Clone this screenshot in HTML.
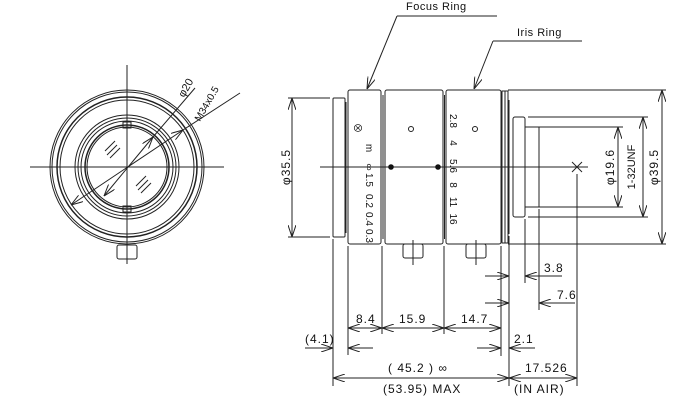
<!DOCTYPE html>
<html><head><style>body{margin:0;background:#fff}svg{display:block}text{font-family:"Liberation Sans","Noto Sans CJK JP",sans-serif;fill:#111}</style></head>
<body>
<svg width="700" height="400" viewBox="0 0 700 400" xmlns="http://www.w3.org/2000/svg">
<defs>
<marker id="a" viewBox="0 0 12 8" refX="12" refY="4" markerWidth="12" markerHeight="8" orient="auto-start-reverse" markerUnits="userSpaceOnUse"><path d="M0,0 L12,4 L0,8" fill="none" stroke="#222" stroke-width="1"/></marker>
</defs>
<g fill="none" stroke="#222" stroke-width="1">
<!-- left front view -->
<line x1="30" y1="167" x2="224" y2="167"/>
<line x1="127" y1="65" x2="127" y2="264"/>
<circle cx="127" cy="167" r="77"/>
<circle cx="127" cy="167" r="75"/>
<circle cx="127" cy="167" r="70" stroke-width="1.5"/>
<circle cx="127" cy="167" r="67"/>
<circle cx="127" cy="167" r="52"/>
<circle cx="127" cy="167" r="49"/>
<circle cx="127" cy="167" r="46"/>
<circle cx="127" cy="167" r="42" stroke-width="1.5"/>
<circle cx="127" cy="167" r="40"/>
<rect x="117" y="245" width="20" height="14" rx="2"/>
<rect x="123" y="122" width="8" height="6"/>
<rect x="123" y="206" width="8" height="6"/>
<line x1="104" y1="196" x2="153" y2="137" marker-start="url(#a)" marker-end="url(#a)"/>
<line x1="153" y1="137" x2="195" y2="88"/>
<line x1="71" y1="205" x2="183" y2="130" marker-start="url(#a)" marker-end="url(#a)"/>
<line x1="183" y1="130" x2="240" y2="93"/>
<line x1="105" y1="151" x2="115" y2="141"/><line x1="107" y1="155" x2="117" y2="145"/><line x1="110" y1="158" x2="120" y2="148"/>
<line x1="136" y1="186" x2="146" y2="176"/><line x1="138" y1="190" x2="148" y2="180"/><line x1="141" y1="193" x2="151" y2="183"/>

<!-- side view body -->
<rect x="333" y="98" width="12" height="139" rx="1"/>
<line x1="346" y1="102" x2="346" y2="233"/>
<rect x="348" y="90" width="33" height="154" rx="2"/>
<line x1="383" y1="95" x2="383" y2="239"/>
<rect x="385" y="90" width="58" height="154" rx="2"/>
<line x1="444.5" y1="95" x2="444.5" y2="239"/>
<rect x="446" y="90" width="55" height="154" rx="2"/>
<rect x="502" y="91" width="3" height="152"/>
<rect x="505" y="91" width="3" height="152"/>
<line x1="509" y1="100" x2="509" y2="234"/>
<rect x="513" y="117" width="12" height="100" rx="2"/>
<rect x="525" y="127" width="14" height="80"/>
<line x1="320" y1="167" x2="588" y2="167"/>
<line x1="572" y1="162" x2="582" y2="172"/><line x1="572" y1="172" x2="582" y2="162"/>
<rect x="403" y="244" width="20" height="14" rx="2"/>
<rect x="466" y="244" width="20" height="14" rx="2"/>
<line x1="413" y1="240" x2="413" y2="265"/>
<line x1="476" y1="240" x2="476" y2="265"/>
<circle cx="411" cy="129" r="2.5"/>
<circle cx="475" cy="129" r="2.5"/>

<!-- labels leaders -->
<line x1="397" y1="16" x2="497" y2="16"/>
<line x1="397" y1="16" x2="367" y2="89" marker-end="url(#a)"/>
<line x1="493" y1="41" x2="582" y2="41"/>
<line x1="493" y1="41" x2="474" y2="89" marker-end="url(#a)"/>

<!-- phi35.5 -->
<line x1="288" y1="98" x2="330" y2="98"/>
<line x1="288" y1="237" x2="330" y2="237"/>
<line x1="292" y1="98" x2="292" y2="237" marker-start="url(#a)" marker-end="url(#a)"/>
<!-- right dims -->
<line x1="528" y1="127" x2="623" y2="127"/>
<line x1="538" y1="207" x2="623" y2="207"/>
<line x1="618" y1="127" x2="618" y2="207" marker-start="url(#a)" marker-end="url(#a)"/>
<line x1="528" y1="117" x2="648" y2="117"/>
<line x1="528" y1="217" x2="648" y2="217"/>
<line x1="643" y1="117" x2="643" y2="217" marker-start="url(#a)" marker-end="url(#a)"/>
<line x1="508" y1="90" x2="666" y2="90"/>
<line x1="508" y1="244" x2="666" y2="244"/>
<line x1="662" y1="90" x2="662" y2="244" marker-start="url(#a)" marker-end="url(#a)"/>

<!-- bottom verticals -->
<line x1="333" y1="239" x2="333" y2="386"/>
<line x1="348" y1="246" x2="348" y2="355"/>
<line x1="382" y1="246" x2="382" y2="334"/>
<line x1="444" y1="246" x2="444" y2="334"/>
<line x1="501" y1="246" x2="501" y2="356"/>
<line x1="509" y1="236" x2="509" y2="386"/>
<line x1="525" y1="219" x2="525" y2="283"/>
<line x1="539" y1="209" x2="539" y2="310"/>
<line x1="577" y1="174" x2="577" y2="386"/>

<line x1="485" y1="276" x2="509" y2="276" marker-end="url(#a)"/>
<line x1="562" y1="276" x2="525" y2="276" marker-end="url(#a)"/>
<line x1="485" y1="303" x2="509" y2="303" marker-end="url(#a)"/>
<line x1="575" y1="303" x2="539" y2="303" marker-end="url(#a)"/>
<line x1="348" y1="328" x2="382" y2="328" marker-start="url(#a)" marker-end="url(#a)"/>
<line x1="382" y1="328" x2="444" y2="328" marker-start="url(#a)" marker-end="url(#a)"/>
<line x1="444" y1="328" x2="501" y2="328" marker-start="url(#a)" marker-end="url(#a)"/>
<line x1="305" y1="348" x2="333" y2="348" marker-end="url(#a)"/>
<line x1="373" y1="348" x2="348" y2="348" marker-end="url(#a)"/>
<line x1="477" y1="348" x2="501" y2="348" marker-end="url(#a)"/>
<line x1="535" y1="348" x2="509" y2="348" marker-end="url(#a)"/>
<line x1="333" y1="378" x2="509" y2="378" marker-start="url(#a)" marker-end="url(#a)"/>
<line x1="509" y1="378" x2="577" y2="378" marker-start="url(#a)" marker-end="url(#a)"/>
</g>
<g fill="#111">
<circle cx="391" cy="167" r="2.8"/>
<circle cx="438" cy="167" r="2.8"/>
</g>
<text x="406" y="10" font-size="11" letter-spacing="0.5">Focus Ring</text>
<text x="517" y="36" font-size="11" letter-spacing="0.5">Iris Ring</text>
<text x="184" y="98" font-size="11" transform="rotate(-60 184 98)">φ20</text>
<text x="200" y="122" font-size="10" transform="rotate(-60 200 122)">M34x0.5</text>
<text x="290" y="167" font-size="12" letter-spacing="1" text-anchor="middle" transform="rotate(-90 290 167)">φ35.5</text>
<text x="614" y="167" font-size="12" letter-spacing="1" text-anchor="middle" transform="rotate(-90 614 167)">φ19.6</text>
<text x="635" y="167" font-size="11" text-anchor="middle" transform="rotate(-90 635 167)">1-32UNF</text>
<text x="658" y="167" font-size="12" letter-spacing="1" text-anchor="middle" transform="rotate(-90 658 167)">φ39.5</text>
<g font-size="10" text-anchor="middle">
<text transform="translate(354,128) rotate(90)">⊗</text>
<text transform="translate(366,148) rotate(90)">m</text>
<text transform="translate(366,167) rotate(90)">∞</text>
<text transform="translate(366,180) rotate(90)">1.5</text>
<text transform="translate(366,201) rotate(90)">0.2</text>
<text transform="translate(366,219) rotate(90)">0.4</text>
<text transform="translate(366,236) rotate(90)">0.3</text>
<text transform="translate(450,121) rotate(90)">2.8</text>
<text transform="translate(450,143) rotate(90)">4</text>
<text transform="translate(450,166) rotate(90)">5.6</text>
<text transform="translate(450,185) rotate(90)">8</text>
<text transform="translate(450,202) rotate(90)">11</text>
<text transform="translate(450,219) rotate(90)">16</text>
</g>
<g font-size="12" letter-spacing="1">
<text x="544" y="272">3.8</text>
<text x="557" y="299">7.6</text>
<text x="356" y="323">8.4</text>
<text x="399" y="323">15.9</text>
<text x="461" y="323">14.7</text>
<text x="305" y="343">(4.1)</text>
<text x="514" y="343">2.1</text>
<text x="388" y="372">( 45.2 ) ∞</text>
<text x="525" y="372">17.526</text>
<text x="383" y="393">(53.95) MAX</text>
<text x="514" y="393">(IN AIR)</text>
</g>
</svg>
</body></html>
